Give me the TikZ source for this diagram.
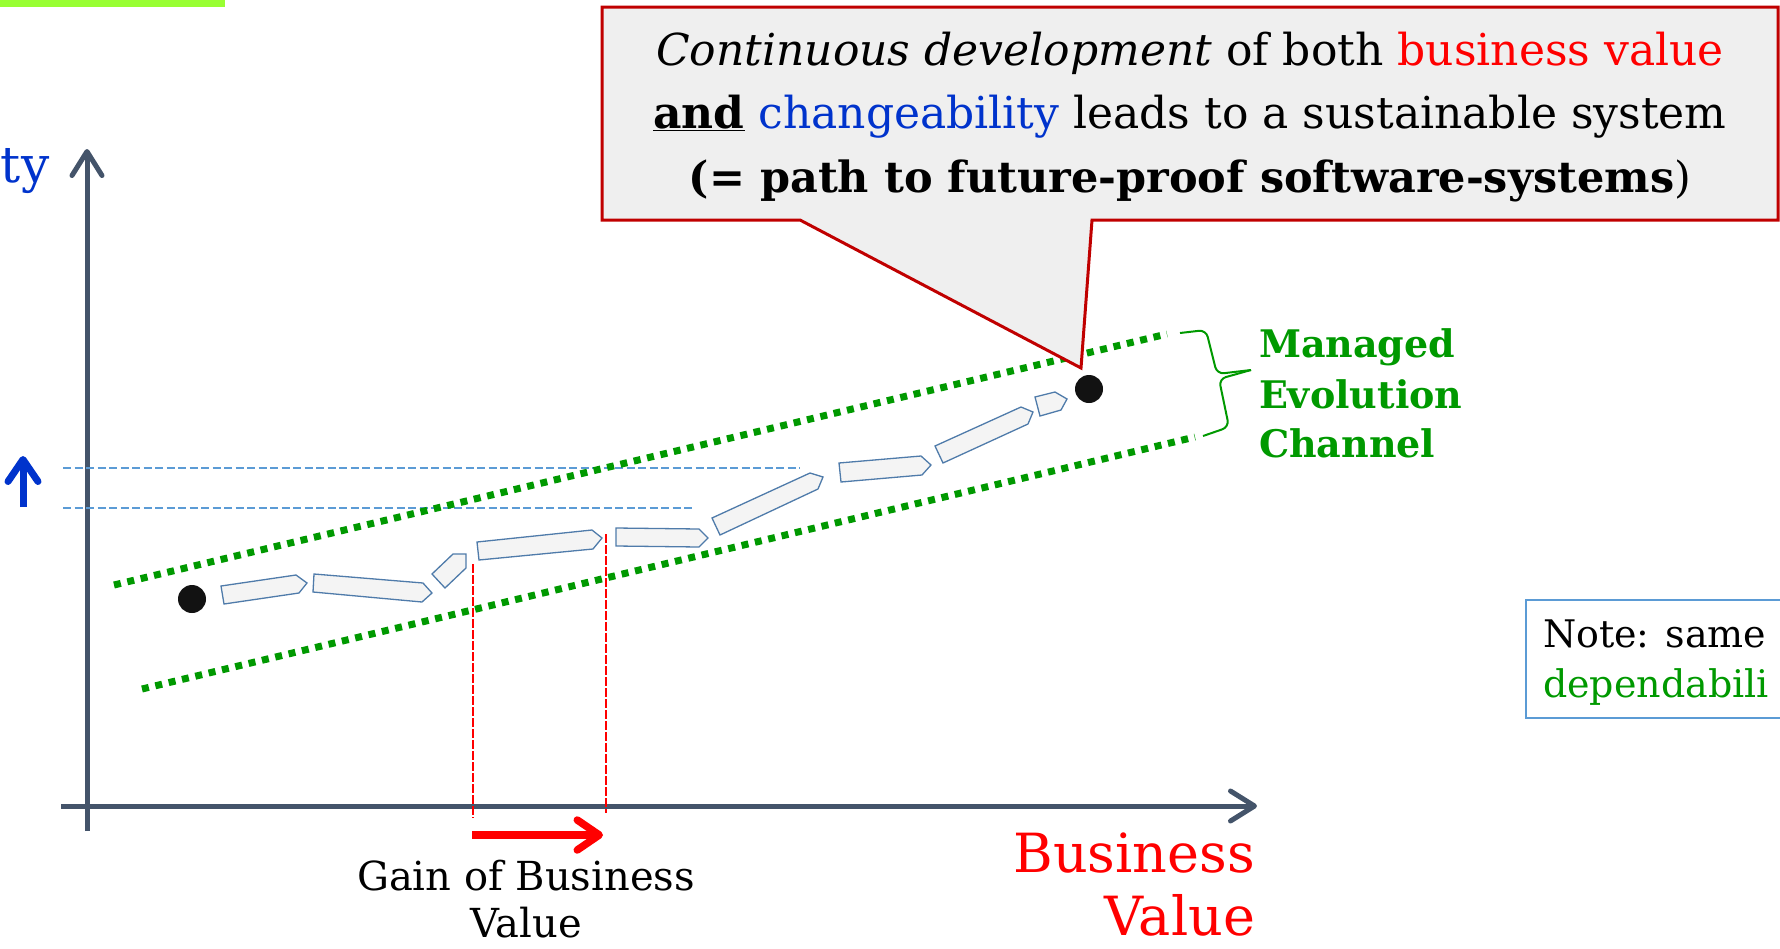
\documentclass[tikz,border=0pt]{standalone}
\usepackage{fontspec}
\setmainfont{DejaVu Serif}
\usetikzlibrary{arrows.meta}

\definecolor{axisgray}{HTML}{44546A}
\definecolor{bizred}{HTML}{FF0000}
\definecolor{chgblue}{HTML}{0033CC}
\definecolor{chgreen}{HTML}{009900}
\definecolor{limebar}{HTML}{99FF33}
\definecolor{guideblue}{HTML}{5B9BD5}
\definecolor{stepfill}{HTML}{F4F4F4}
\definecolor{stepline}{HTML}{4F7BAA}
\definecolor{calloutfill}{HTML}{EFEFEF}
\definecolor{calloutline}{HTML}{C00000}

\newcommand{\fs}[1]{\fontsize{#1}{#1}\selectfont}

\tikzset{
  txt/.style={inner sep=0pt, outer sep=0pt},
  axisline/.style={line width=5pt, color=axisgray,
    -{Straight Barb[length=24pt, width=30pt, round]}},
  channel/.style={line width=7pt, color=chgreen, dash pattern=on 7pt off 6.7pt},
  guide/.style={line width=2pt, color=guideblue, dash pattern=on 8pt off 3.5pt},
  gainmark/.style={line width=1.5pt, color=bizred, dash pattern=on 9pt off 2pt},
  stepbox/.style={fill=stepfill, draw=stepline, line width=1.3pt, line join=miter},
  milestone/.style={circle, fill=black!93, minimum size=28pt, inner sep=0pt},
}

\begin{document}
\begin{tikzpicture}[x=1pt, y=-1pt]
\useasboundingbox (0,0) rectangle (1780,948);

% lime bar in the upper left corner
\fill[limebar] (0,0) rectangle (225,7);

% axes
\coordinate (yfoot) at (87,831);
\coordinate (ytip) at (87,149);
\coordinate (xfoot) at (61,806);
\coordinate (xtip) at (1257,806);
\draw[axisline] (yfoot) -- (ytip);
\draw[axisline] (xfoot) -- (xtip);

% axis labels
\node[txt, anchor=base west, text=chgblue] (ylabel) at (1,182) {\fs{50}ty};
\node[txt, anchor=base east, text=bizred] (xlabel1) at (1255,872) {\fs{54}Business};
\node[txt, anchor=base east, text=bizred] (xlabel2) at (1255,935) {\fs{54}Value};

% changeability increase
\coordinate (upfoot) at (23,507);
\coordinate (uptip) at (23,456);
\draw[line width=7pt, color=chgblue, -{Straight Barb[length=22pt, width=30pt, round]}] (upfoot) -- (uptip);

% horizontal guide lines
\coordinate (g1a) at (63,468);
\coordinate (g1b) at (800,468);
\coordinate (g2a) at (63,508);
\coordinate (g2b) at (695,508);
\draw[guide] (g1a) -- (g1b);
\draw[guide] (g2a) -- (g2b);

% managed evolution channel borders
\coordinate (cu1) at (114,585);
\coordinate (cu2) at (1167,334);
\coordinate (cl1) at (142,689);
\coordinate (cl2) at (1195,437);
\draw[channel] (cu1) -- (cu2);
\draw[channel] (cl1) -- (cl2);

% vertical markers for gained business value
\coordinate (m1a) at (473,564);
\coordinate (m1b) at (473,818);
\coordinate (m2a) at (606,534);
\coordinate (m2b) at (606,813);
\draw[gainmark] (m1a) -- (m1b);
\draw[gainmark] (m2a) -- (m2b);

% gain arrow
\coordinate (gainfrom) at (472,835);
\coordinate (gainto) at (603,835);
\draw[line width=7.5pt, color=bizred, -{Straight Barb[length=22pt, width=30pt, round]}] (gainfrom) -- (gainto);
\node[txt, anchor=base] (gain1) at (526,890) {\fs{40}Gain of Business};
\node[txt, anchor=base] (gain2) at (526,937) {\fs{40}Value};

% development steps
\draw[stepbox] (221,586) -- (296,575) -- (307,583) -- (299,593) -- (224,604) -- cycle;
\draw[stepbox] (314,574) -- (423,583) -- (432,593) -- (422,602) -- (313,592) -- cycle;
\draw[stepbox] (432,574) -- (453,554) -- (466,554) -- (466,568) -- (445,588) -- cycle;
\draw[stepbox] (477,542) -- (592,530) -- (602,538) -- (593,549) -- (479,560) -- cycle;
\draw[stepbox] (616,528) -- (699,529) -- (708,538) -- (699,547) -- (616,546) -- cycle;
\draw[stepbox] (712,518) -- (810,473) -- (823,477) -- (818,489) -- (720,535) -- cycle;
\draw[stepbox] (839,463) -- (921,456) -- (931,465) -- (922,475) -- (841,482) -- cycle;
\draw[stepbox] (935,446) -- (1021,407) -- (1033,412) -- (1028,424) -- (943,463) -- cycle;
\draw[stepbox] (1035,397) -- (1055,392) -- (1067,399) -- (1061,410) -- (1040,416) -- cycle;

% start and end states
\node[milestone] (start) at (192,599) {};
\node[milestone] (goal) at (1089,389) {};

% channel brace and label
\draw[chgreen, line width=2pt, rounded corners=7pt]
  (1180,333) -- (1206,330) -- (1217,374) -- (1251,370);
\draw[chgreen, line width=2pt, rounded corners=7pt]
  (1251,370) -- (1219,379) -- (1229,427) -- (1203,436);
\node[txt, anchor=base west, text=chgreen] (ch1) at (1259,357) {\fs{38}\bfseries Managed};
\node[txt, anchor=base west, text=chgreen] (ch2) at (1259,408) {\fs{38}\bfseries Evolution};
\node[txt, anchor=base west, text=chgreen] (ch3) at (1259,457) {\fs{38}\bfseries Channel};

% callout
\coordinate (calltip) at (1081,368);
\filldraw[fill=calloutfill, draw=calloutline, line width=3pt, line join=miter]
  (602,7) -- (1778,7) -- (1778,220) -- (1092,220) -- (calltip) -- (800,220) -- (602,220) -- cycle;
\node[txt, anchor=base] (call1) at (1190,65)
  {\fs{44}\textit{Continuous development} of both \textcolor{bizred}{business value}};
\node[txt, anchor=base] (call2) at (1190,128)
  {\fs{44}\textbf{\underline{and}} \textcolor{chgblue}{changeability} leads to a sustainable system};
\node[txt, anchor=base] (call3) at (1190,192)
  {\fs{43}\textbf{(= path to future-proof software-systems}{)}};

% note box
\draw[guideblue, line width=2pt] (1526,600) rectangle (1800,718);
\node[txt, anchor=base west] (note1) at (1543,647) {\fs{38}Note: same};
\node[txt, anchor=base west, text=chgreen] (note2) at (1543,697) {\fs{38}dependabili};

\end{tikzpicture}
\end{document}
